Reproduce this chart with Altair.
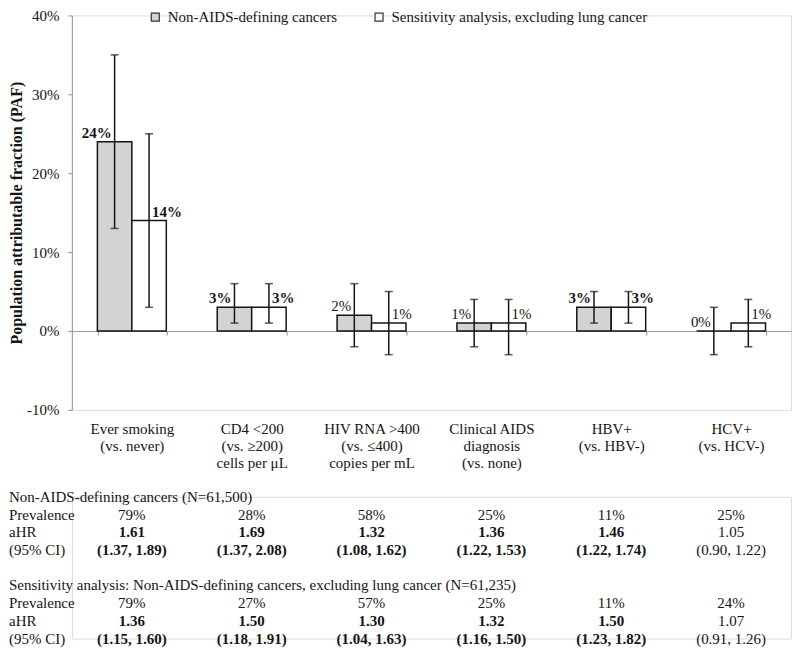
import altair as alt
import pandas as pd

# ---------------- data ----------------
categories = [
    "Ever smoking\n(vs. never)",
    "CD4 <200\n(vs. ≥200)\ncells per μL",
    "HIV RNA >400\n(vs. ≤400)\ncopies per mL",
    "Clinical AIDS\ndiagnosis\n(vs. none)",
    "HBV+\n(vs. HBV-)",
    "HCV+\n(vs. HCV-)",
]
series_names = ["Non-AIDS-defining cancers", "Sensitivity analysis, excluding lung cancer"]
series_colors = ["#d3d3d3", "#ffffff"]

paf_main = [24, 3, 2, 1, 3, 0]
paf_main_lo = [13, 1, -2, -2, 1, -3]
paf_main_hi = [35, 6, 6, 4, 5, 3]
paf_sens = [14, 3, 1, 1, 3, 1]
paf_sens_lo = [3, 1, -3, -3, 1, -2]
paf_sens_hi = [25, 6, 5, 4, 5, 4]
paf_bold = [True, True, False, False, True, False]

y_ticks = [-10, 0, 10, 20, 30, 40]
y_title = "Population attributable fraction (PAF)"

section_titles = [
    "Non-AIDS-defining cancers (N=61,500)",
    "Sensitivity analysis: Non-AIDS-defining cancers, excluding lung cancer (N=61,235)",
]
row_labels = ["Prevalence", "aHR", "(95% CI)"]
prev_main = ["79%", "28%", "58%", "25%", "11%", "25%"]
ahr_main = ["1.61", "1.69", "1.32", "1.36", "1.46", "1.05"]
ci_main = ["(1.37, 1.89)", "(1.37, 2.08)", "(1.08, 1.62)", "(1.22, 1.53)", "(1.22, 1.74)", "(0.90, 1.22)"]
prev_sens = ["79%", "27%", "57%", "25%", "11%", "24%"]
ahr_sens = ["1.36", "1.50", "1.30", "1.32", "1.50", "1.07"]
ci_sens = ["(1.15, 1.60)", "(1.18, 1.91)", "(1.04, 1.63)", "(1.16, 1.50)", "(1.23, 1.82)", "(0.91, 1.26)"]
hr_bold = [True, True, True, True, True, False]

# ---------------- tables ----------------
bar_rows = []
for i, cat in enumerate(categories):
    for s, v, lo, hi in [
        (series_names[0], paf_main[i], paf_main_lo[i], paf_main_hi[i]),
        (series_names[1], paf_sens[i], paf_sens_lo[i], paf_sens_hi[i]),
    ]:
        bar_rows.append(dict(category=cat, series=s, paf=v, lo=lo, hi=hi,
                             bold=paf_bold[i], label=f"{v}%"))
bars = pd.DataFrame(bar_rows)

label_rows = []
value_rows = []
for sec, (title, prev, ahr, ci) in enumerate([
    (section_titles[0], prev_main, ahr_main, ci_main),
    (section_titles[1], prev_sens, ahr_sens, ci_sens),
]):
    r0 = sec * 5
    label_rows.append(dict(row=r0, text=title))
    for j, lab in enumerate(row_labels):
        label_rows.append(dict(row=r0 + 1 + j, text=lab))
    for i, cat in enumerate(categories):
        value_rows.append(dict(row=r0 + 1, category=cat, text=prev[i], bold=False))
        value_rows.append(dict(row=r0 + 2, category=cat, text=ahr[i], bold=hr_bold[i]))
        value_rows.append(dict(row=r0 + 3, category=cat, text=ci[i], bold=hr_bold[i]))
labels_df = pd.DataFrame(label_rows)
values_df = pd.DataFrame(value_rows)

# ---------------- styling ----------------
FONT = "Liberation Serif"
FS = 15
W, H = 720, 395
INK = "#151515"
AXIS_GRAY = "#a0a0a0"

xscale = alt.Scale(domain=categories, paddingInner=0.425, paddingOuter=0.2125)
xaxis = alt.Axis(
    orient="bottom", offset=-H * 10 / 50, tickBand="extent", tickSize=4,
    tickColor=AXIS_GRAY, domainColor=AXIS_GRAY, domainWidth=1.2, tickWidth=1.2,
    labelExpr="split(datum.label, '\\n')", labelLineHeight=17, labelPadding=87,
    labelFont=FONT, labelFontSize=FS, labelColor=INK, labelAngle=0, title=None,
    grid=False,
)
yscale = alt.Scale(domain=[-10, 40], nice=False, zero=False)
yaxis = alt.Axis(
    values=y_ticks, labelExpr="datum.value + '%'", tickSize=4, tickColor=AXIS_GRAY,
    domainColor=AXIS_GRAY, domainWidth=1.2, tickWidth=1.2, grid=False,
    labelFont=FONT, labelFontSize=FS, labelColor=INK, labelPadding=9,
    titleFont=FONT, titleFontSize=16, titleFontWeight="bold",
    titleColor=INK, titlePadding=2,
)


def X():
    return alt.X("category:N", sort=categories, scale=xscale, axis=xaxis)


def XO():
    return alt.XOffset("series:N", sort=series_names,
                       scale=alt.Scale(domain=series_names, paddingInner=0, paddingOuter=0))


def Y(field):
    return alt.Y(f"{field}:Q", scale=yscale, axis=yaxis, title=y_title)


base = alt.Chart(bars)

bar_layer = base.mark_bar(stroke=INK, strokeWidth=1.5).encode(
    x=X(), xOffset=XO(), y=Y("paf"),
    color=alt.Color(
        "series:N", sort=series_names,
        scale=alt.Scale(domain=series_names, range=series_colors),
        legend=alt.Legend(
            orient="none", legendX=76, legendY=-6, direction="horizontal", title=None,
            symbolType="square", symbolSize=64, symbolStrokeColor="#333",
            symbolStrokeWidth=1.2, symbolOpacity=1, labelFont=FONT, labelFontSize=FS,
            labelColor=INK, labelOffset=5, columnPadding=34, padding=0, labelLimit=0,
        ),
    ),
)

rule_layer = base.mark_rule(color=INK, strokeWidth=1.5).encode(
    x=X(), xOffset=XO(), y=Y("lo"), y2="hi:Q"
)
cap_lo = base.mark_tick(color=INK, thickness=1.5, size=8, orient="horizontal").encode(
    x=X(), xOffset=XO(), y=Y("lo")
)
cap_hi = base.mark_tick(color=INK, thickness=1.5, size=8, orient="horizontal").encode(
    x=X(), xOffset=XO(), y=Y("hi")
)

label_layers = []
for s_idx, (align, dx) in enumerate([("right", -3), ("left", 3)]):
    for bold in (True, False):
        label_layers.append(
            base.transform_filter(
                (alt.datum.series == series_names[s_idx]) & (alt.datum.bold == bold)
            ).mark_text(
                align=align, dx=dx, dy=-4, baseline="alphabetic", font=FONT, fontSize=FS,
                fontWeight="bold" if bold else "normal", color=INK,
            ).encode(
                x=X(), xOffset=XO(), y=Y("paf"), text="label:N"
            )
        )

top = alt.layer(bar_layer, rule_layer, cap_lo, cap_hi, *label_layers).properties(
    width=W, height=H
)

# ---------------- table under the chart ----------------
rscale = alt.Scale(domain=[0, 8], reverse=True, nice=False, zero=False)
xscale2 = alt.Scale(domain=categories, paddingInner=0.425, paddingOuter=0.2125)

tbl_labels = alt.Chart(labels_df).mark_text(
    align="left", baseline="middle", font=FONT, fontSize=FS, color=INK
).encode(
    x=alt.value(-63),
    y=alt.Y("row:Q", scale=rscale, axis=None),
    text="text:N",
)

tbl_values = []
for bold in (True, False):
    tbl_values.append(
        alt.Chart(values_df).transform_filter(alt.datum.bold == bold).mark_text(
            align="center", baseline="middle", font=FONT, fontSize=FS, color=INK,
            fontWeight="bold" if bold else "normal",
        ).encode(
            x=alt.X("category:N", sort=categories, scale=xscale2, axis=None),
            y=alt.Y("row:Q", scale=rscale, axis=None),
            text="text:N",
        )
    )

table = alt.layer(tbl_labels, *tbl_values).properties(width=W, height=142)

chart = alt.vconcat(top, table, spacing=17).properties(
    padding={"left": 0, "top": -1, "right": 0, "bottom": 0}, background="white"
).configure_view(stroke=None).configure(font=FONT)

chart.save("out.html", embed_options={"renderer": "svg", "actions": False})
